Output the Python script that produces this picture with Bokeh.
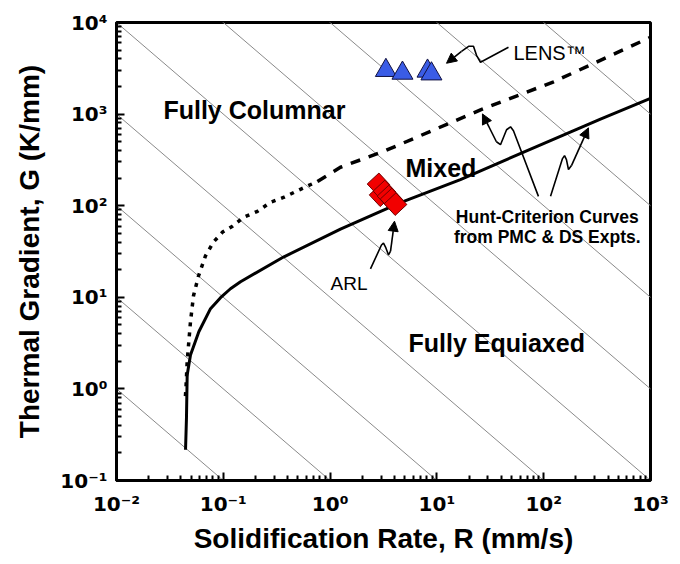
import numpy as np
from bokeh.plotting import figure
from bokeh.models import FixedTicker, CustomJSTickFormatter, Label, Arrow, NormalHead
from bokeh.embed import file_html
from bokeh.resources import INLINE

# ---------------- data ----------------
# Hunt-criterion curves (solid: lower boundary, dashed: upper boundary)
hunt_solid_R = [0.0443, 0.0452, 0.0459, 0.0493, 0.0590, 0.0759, 0.0942, 0.1167, 0.145,
                0.366, 1.25, 4.56, 16.6, 340.0, 1000.0]
hunt_solid_G = [0.217, 0.482, 1.42, 2.34, 4.21, 7.52, 9.9, 12.4, 14.8,
                27.5, 55.5, 108.0, 193.0, 883.0, 1486.0]

hunt_dot_R = [0.0442, 0.0447, 0.0459, 0.0493, 0.0526, 0.0586, 0.0681, 0.0809, 0.0984,
              0.122, 0.155, 0.209, 0.277, 0.366, 0.528, 0.762]
hunt_dot_G = [0.832, 1.02, 2.00, 5.43, 10.4, 17.1, 28.3, 40.1, 51.5,
              59.8, 74.8, 86.9, 109.0, 123.0, 151.0, 184.0]
hunt_dash_R = [0.762, 1.25, 3.18, 25.6, 124.0, 1000.0]
hunt_dash_G = [184.0, 263.0, 392.0, 1112.0, 2254.0, 6900.0]

# LENS (blue triangles) and ARL (red squares) process points
lens_R = [3.33, 4.76, 8.17, 8.89]
lens_G = [3000.0, 2800.0, 2950.0, 2750.0]
arl_R = [2.97, 2.84, 3.23, 3.52, 3.76, 4.10]
arl_G = [130.0, 171.0, 143.0, 126.0, 117.0, 104.0]

# iso-cooling-rate lines G*R = const (K/s)
cooling_rates = [1e-2, 1e-1, 1e0, 1e1, 1e2, 1e3, 1e4, 1e5, 1e6]

# axes: decade exponents
x_exponents = [-2, -1, 0, 1, 2, 3]
y_exponents = [-1, 0, 1, 2, 3, 4]

# annotation arrows (squiggly leaders), data coordinates
lens_arrow_R = [46.8, 25.6, 23.5, 22.0, 19.8, 17.0, 12.3]
lens_arrow_G = [5358, 3681, 4385, 5495, 5495, 4842, 3589]
hunt1_arrow_R = [89.3, 52.1, 48.9, 44.9, 39.4, 36.1, 26.7]
hunt1_arrow_G = [126.5, 657.7, 726.1, 674.5, 463.4, 498.9, 1004.6]
hunt2_arrow_R = [115.9, 150.0, 156.7, 163.3, 170.6, 182.0, 262.4]
hunt2_arrow_G = [126.5, 326.6, 352.4, 318.4, 248.3, 274.2, 707.9]
arl_arrow_R = [2.388, 3.027, 3.162, 3.304, 3.524, 3.681, 4.009]
arl_arrow_G = [20.42, 37.24, 39.08, 35.40, 28.97, 31.99, 67.76]

FONT = "Liberation Sans"
TICK_FONT = "DejaVu Sans"
XMIN, XMAX = 1e-2, 1e3
YMIN, YMAX = 1e-1, 1e4

p = figure(width=672, height=556, x_axis_type="log", y_axis_type="log",
           x_range=(XMIN, XMAX), y_range=(YMIN, YMAX),
           output_backend="svg", toolbar_location=None,
           min_border_left=116, min_border_right=22,
           min_border_top=22, min_border_bottom=73)
p.grid.visible = False
p.outline_line_color = "black"
p.outline_line_width = 3
p.background_fill_color = "white"

# iso lines
for c in cooling_rates:
    rr = np.array([1e-3, 1e4])
    p.line(rr, c / rr, line_color="#8a8a8a", line_width=1)

# Hunt curves
p.line(hunt_solid_R, hunt_solid_G, line_color="black", line_width=3)
p.line(hunt_dot_R, hunt_dot_G, line_color="black", line_width=3.5, line_dash="4 6")
p.line(hunt_dash_R, hunt_dash_G, line_color="black", line_width=3.5, line_dash="10 9")

# markers
p.scatter(lens_R, lens_G, marker="triangle", size=21, fill_color="#3a5ce6",
          line_color="#101040", line_width=1)
p.scatter(arl_R, arl_G, marker="square", size=16, angle=0.75, fill_color="#f20000",
          line_color="#700000", line_width=1)

# squiggly arrows
for xs, ys in [(lens_arrow_R, lens_arrow_G), (hunt1_arrow_R, hunt1_arrow_G),
               (hunt2_arrow_R, hunt2_arrow_G), (arl_arrow_R, arl_arrow_G)]:
    p.line(xs[:-1], ys[:-1], line_color="black", line_width=1.6)
    p.add_layout(Arrow(end=NormalHead(size=10, fill_color="black", line_color="black", line_width=1),
                       x_start=xs[-2], y_start=ys[-2], x_end=xs[-1], y_end=ys[-1],
                       line_color="black", line_width=1.6))

# text labels
def lab(x, y, text, size, bold=True, align="left"):
    p.add_layout(Label(x=x, y=y, text=text, text_font=FONT,
                       text_font_style="bold" if bold else "normal",
                       text_font_size=size, text_align=align,
                       text_baseline="alphabetic", text_color="black"))

lab(0.0275, 1110, "Fully Columnar", "25px")
lab(5.08, 261, "Mixed", "25px")
lab(5.42, 3.14, "Fully Equiaxed", "25px")
lab(108, 74.8, "Hunt-Criterion Curves", "17.5px", align="center")
lab(108, 45.4, "from PMC & DS Expts.", "17.5px", align="center")
lab(52.1, 4615, "LENS\u2122", "20px", bold=False)
lab(1.01, 14.0, "ARL", "19px", bold=False)

# axes (ticks inside, "10^n" labels)
fmt = CustomJSTickFormatter(code="""
const sup = {"-": "\u207b", "0": "\u2070", "1": "\u00b9", "2": "\u00b2", "3": "\u00b3", "4": "\u2074"};
const e = Math.round(Math.log10(tick));
return "10" + String(e).split("").map(c => sup[c]).join("");
""")

def minors(lo, hi):
    return [m * 10.0 ** k for k in range(lo, hi) for m in range(2, 10)]

p.xaxis.ticker = FixedTicker(ticks=[10.0 ** e for e in x_exponents], minor_ticks=minors(-2, 3))
p.yaxis.ticker = FixedTicker(ticks=[10.0 ** e for e in y_exponents], minor_ticks=minors(-1, 4))
for ax in (p.xaxis[0], p.yaxis[0]):
    ax.formatter = fmt
    ax.axis_line_width = 3
    ax.axis_line_color = "black"
    ax.major_tick_in = 8
    ax.major_tick_out = 0
    ax.minor_tick_in = 5
    ax.minor_tick_out = 0
    ax.major_tick_line_width = 2
    ax.minor_tick_line_width = 2
    ax.major_tick_line_color = "black"
    ax.minor_tick_line_color = "black"
    ax.major_label_text_font = TICK_FONT
    ax.major_label_text_font_style = "bold"
    ax.major_label_text_font_size = "20px"
    ax.major_label_text_color = "black"
    ax.axis_label_text_font = FONT
    ax.axis_label_text_font_style = "bold"
    ax.axis_label_text_font_size = "28px"
    ax.axis_label_text_color = "black"

p.xaxis.axis_label = "Solidification Rate, R (mm/s)"
p.yaxis.axis_label = "Thermal Gradient, G (K/mm)"
p.xaxis.major_label_standoff = 11
p.xaxis.axis_label_standoff = 4
p.yaxis.major_label_standoff = 9
p.yaxis.axis_label_standoff = 12

open("out.html", "w").write(file_html(p, INLINE))
